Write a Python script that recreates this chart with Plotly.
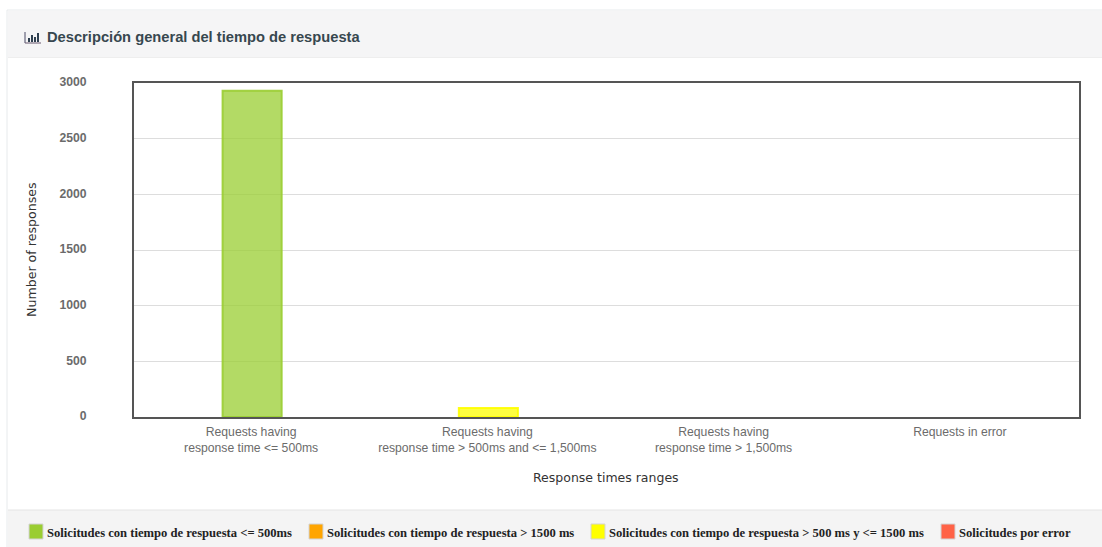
import plotly.graph_objects as go

categories = ["Requests having<br>response time &lt;= 500ms",
              "Requests having<br>response time &gt; 500ms and &lt;= 1,500ms",
              "Requests having<br>response time &gt; 1,500ms",
              "Requests in error"]
series_names = ["Solicitudes con tiempo de respuesta &lt;= 500ms",
                "Solicitudes con tiempo de respuesta &gt; 1500 ms",
                "Solicitudes con tiempo de respuesta &gt; 500 ms y &lt;= 1500 ms",
                "Solicitudes por error"]
series_colors = ["#9acd32", "#ffa500", "#ffff00", "#ff6347"]
fast_values = [2930, None, None, None]
slow_values = [None, None, None, None]
medium_values = [None, 80, None, None]
error_values = [None, None, None, None]
y_ticks = [0, 500, 1000, 1500, 2000, 2500, 3000]
title_text = "Descripción general del tiempo de respuesta"
x_title = "Response times ranges"
y_title = "Number of responses"

W, H = 1102, 547
L, R, T, B = 134, 1079, 83, 417
px = lambda x: (x - L) / (R - L)
py = lambda y: (B - y) / (B - T)

def rgba(c, a):
    return f"rgba({int(c[1:3],16)},{int(c[3:5],16)},{int(c[5:7],16)},{a})"

fig = go.Figure()
for name, vals, col in zip(series_names, [fast_values, slow_values, medium_values, error_values], series_colors):
    fig.add_bar(x=categories, y=vals, name=name, width=0.25,
                marker=dict(color=rgba(col, 0.75), line=dict(color=rgba(col, 0.9), width=2)))

shapes, annotations = [], []
def rect(x0, y0, x1, y1, fill, line=None, lw=0, layer="below"):
    shapes.append(dict(type="rect", xref="paper", yref="paper", x0=px(x0), x1=px(x1), y0=py(y0), y1=py(y1),
                       fillcolor=fill, line=dict(color=line or fill, width=lw), layer=layer))

# panel chrome
rect(7, 10, 1104, 549, "#ffffff", "#e7eaec", 1)
rect(8, 11, 1102, 57, "#f5f5f6")
rect(8, 510, 1102, 547, "#f4f4f4")
shapes.append(dict(type="line", xref="paper", yref="paper", x0=px(8), x1=px(1102), y0=py(510), y1=py(510),
                   line=dict(color="#e4e4e4", width=1), layer="below"))
shapes.append(dict(type="line", xref="paper", yref="paper", x0=px(8), x1=px(1102), y0=py(57.5), y1=py(57.5),
                   line=dict(color="#eeeeee", width=1), layer="below"))

# title icon
shapes.append(dict(type="line", xref="paper", yref="paper", x0=px(25), x1=px(25), y0=py(32), y1=py(43),
                   line=dict(color="#4a4a66", width=1)))
shapes.append(dict(type="line", xref="paper", yref="paper", x0=px(25), x1=px(41), y0=py(43), y1=py(43),
                   line=dict(color="#6a5a70", width=1)))
for bx, by in [(28, 38), (31, 35), (34, 37), (37, 33)]:
    rect(bx, by, bx + 2, 42, "#2f4050", layer="above")
annotations.append(dict(text=f"<b>{title_text}</b>", xref="paper", yref="paper", x=px(45), y=py(37),
                        xanchor="left", yanchor="middle", showarrow=False,
                        font=dict(family="Liberation Sans", size=14.7, color="#37474f")))

# legend row
swatch_x = [29, 309, 591, 941]
for sx, name, col in zip(swatch_x, series_names, series_colors):
    rect(sx, 524, sx + 14, 539, col, "#d4d4d4", 1)
    annotations.append(dict(text=f"<b>{name}</b>", xref="paper", yref="paper", x=px(sx + 16), y=py(533),
                            xanchor="left", yanchor="middle", showarrow=False,
                            font=dict(family="Liberation Serif", size=12.6, color="#222222")))

annotations.append(dict(text=x_title, xref="paper", yref="paper", x=px(606), y=py(477.5),
                        xanchor="center", yanchor="middle", showarrow=False,
                        font=dict(family="DejaVu Sans", size=12.5, color="#333333")))
annotations.append(dict(text=y_title, xref="paper", yref="paper", x=px(31), y=py(250), textangle=-90,
                        xanchor="center", yanchor="middle", showarrow=False,
                        font=dict(family="DejaVu Sans", size=12.6, color="#333333")))

fig.update_layout(
    width=W, height=H, barmode="overlay", showlegend=False,
    paper_bgcolor="#ffffff", plot_bgcolor="#ffffff",
    margin=dict(l=L, r=W - R, t=T, b=H - B, pad=0),
    shapes=shapes, annotations=annotations,
    xaxis=dict(type="category", categoryorder="array", categoryarray=categories, range=[-0.5, 3.5],
               showline=True, mirror=True, linecolor="#555555", linewidth=2, showgrid=False, ticks="",
               ticklabelstandoff=2, ticklabelshift=-1,
               tickfont=dict(family="Liberation Sans", size=12.2, color="#6b6b6b")),
    yaxis=dict(range=[0, 3000], tickvals=y_ticks, ticktext=[f"<b>{v}</b>" for v in y_ticks],
               showline=True, mirror=True, linecolor="#555555", linewidth=2,
               gridcolor="#dddddd", gridwidth=1, zeroline=False, ticks="", ticklabelstandoff=43,
               ticklabelshift=-1,
               tickfont=dict(family="Liberation Sans", size=12.2, color="#6b6b6b")),
)
fig.write_html("out.html", config={"displayModeBar": False},
               post_script="document.body.style.margin='0';document.documentElement.style.overflow='hidden';")
